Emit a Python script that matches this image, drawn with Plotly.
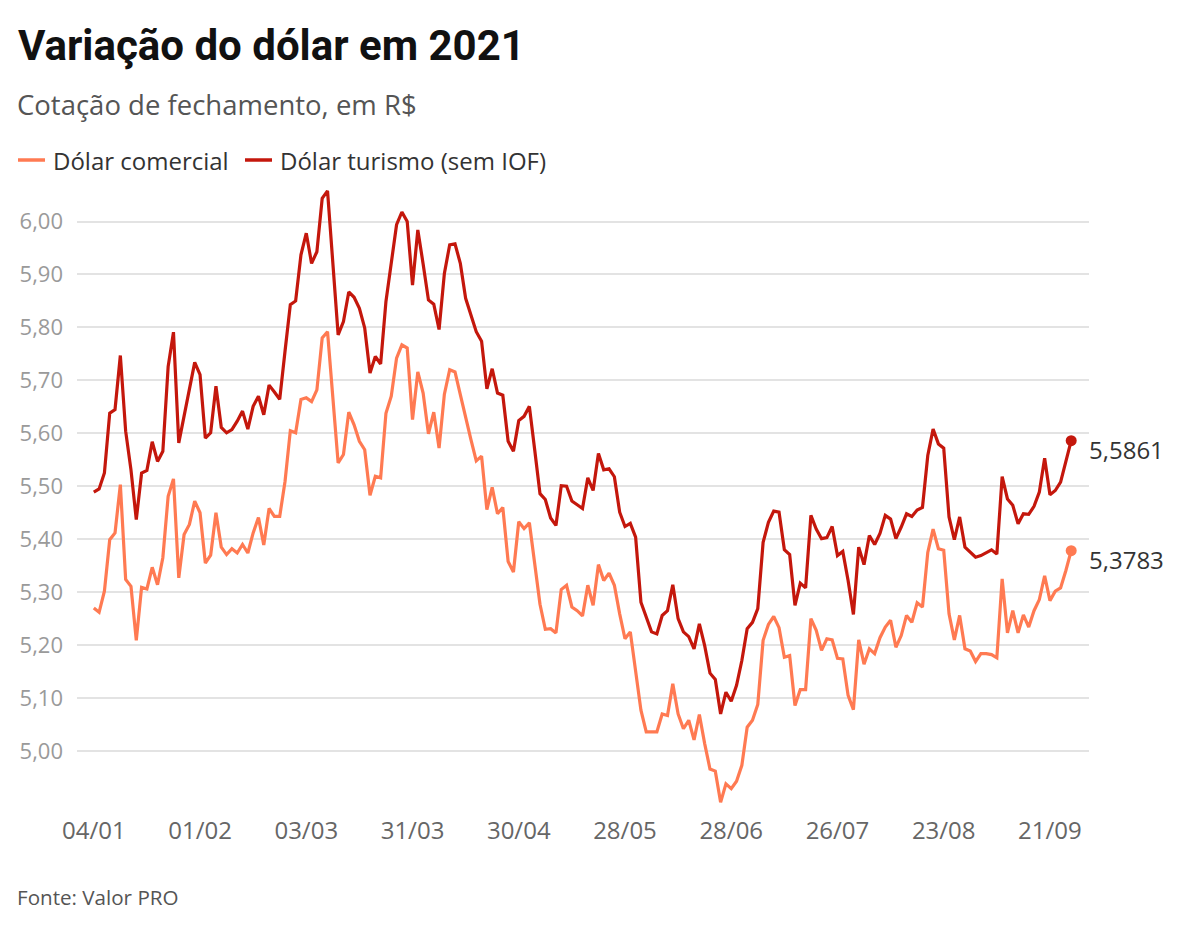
import plotly.graph_objects as go

# ---- categories: trading days of 2021 (dd/mm) ----
MONTH_DAYS = {
    "01": [4, 5, 6, 7, 8, 11, 12, 13, 14, 15, 18, 19, 20, 21, 22, 25, 26, 27, 28, 29],
    "02": [1, 2, 3, 4, 5, 8, 9, 10, 11, 12, 17, 18, 19, 22, 23, 24, 25, 26],
    "03": [1, 2, 3, 4, 5, 8, 9, 10, 11, 12, 15, 16, 17, 18, 19, 22, 23, 24, 25, 26, 29, 30, 31],
    "04": [1, 5, 6, 7, 8, 9, 12, 13, 14, 15, 16, 19, 20, 22, 23, 26, 27, 28, 29, 30],
    "05": [3, 4, 5, 6, 7, 10, 11, 12, 13, 14, 17, 18, 19, 20, 21, 24, 25, 26, 27, 28, 31],
    "06": [1, 2, 4, 7, 8, 9, 10, 11, 14, 15, 16, 17, 18, 21, 22, 23, 24, 25, 28, 29, 30],
    "07": [1, 2, 5, 6, 7, 8, 9, 12, 13, 14, 15, 16, 19, 20, 21, 22, 23, 26, 27, 28, 29, 30],
    "08": [2, 3, 4, 5, 6, 9, 10, 11, 12, 13, 16, 17, 18, 19, 20, 23, 24, 25, 26, 27, 30, 31],
    "09": [1, 2, 3, 6, 8, 9, 10, 13, 14, 15, 16, 17, 20, 21, 22, 23, 24, 27],
}
DATES = [f"{d:02d}/{m}" for m, days in MONTH_DAYS.items() for d in days]

X_TICKS = ["04/01", "01/02", "03/03", "31/03", "30/04", "28/05", "28/06", "26/07", "23/08", "21/09"]
Y_TICKS = [5.0, 5.1, 5.2, 5.3, 5.4, 5.5, 5.6, 5.7, 5.8, 5.9, 6.0]

# ---- series ----
COMERCIAL = [
    5.270, 5.262, 5.302, 5.399, 5.412, 5.503, 5.324, 5.311, 5.209, 5.309,
    5.306, 5.347, 5.314, 5.365, 5.481, 5.514, 5.327, 5.409, 5.428, 5.472,
    5.450, 5.355, 5.370, 5.450, 5.385, 5.371, 5.382, 5.374, 5.390, 5.374,
    5.412, 5.441, 5.389, 5.458, 5.443, 5.443, 5.509, 5.605, 5.601, 5.664,
    5.667, 5.660, 5.682, 5.780, 5.792, 5.667, 5.544, 5.560, 5.640, 5.616,
    5.585, 5.569, 5.483, 5.519, 5.516, 5.638, 5.670, 5.742, 5.767, 5.761,
    5.626, 5.716, 5.676, 5.599, 5.640, 5.572, 5.674, 5.720, 5.716, 5.673,
    5.629, 5.588, 5.548, 5.557, 5.456, 5.498, 5.448, 5.460, 5.358, 5.338,
    5.433, 5.420, 5.431, 5.352, 5.277, 5.230, 5.231, 5.223, 5.305, 5.313,
    5.272, 5.265, 5.255, 5.313, 5.275, 5.352, 5.322, 5.336, 5.313, 5.259,
    5.212, 5.225, 5.146, 5.077, 5.036, 5.036, 5.036, 5.070, 5.067, 5.127,
    5.070, 5.042, 5.058, 5.021, 5.069, 5.014, 4.966, 4.962, 4.903, 4.938,
    4.929, 4.943, 4.973, 5.045, 5.058, 5.088, 5.209, 5.239, 5.254, 5.233,
    5.177, 5.180, 5.086, 5.116, 5.116, 5.250, 5.228, 5.190, 5.212, 5.210,
    5.175, 5.174, 5.105, 5.078, 5.210, 5.164, 5.193, 5.184, 5.214, 5.234,
    5.247, 5.196, 5.218, 5.256, 5.243, 5.280, 5.272, 5.375, 5.419, 5.382,
    5.379, 5.259, 5.210, 5.256, 5.193, 5.189, 5.169, 5.184, 5.184, 5.182,
    5.176, 5.325, 5.223, 5.265, 5.223, 5.257, 5.234, 5.265, 5.286, 5.331,
    5.284, 5.302, 5.308, 5.341, 5.3783,
]
TURISMO = [
    5.489, 5.495, 5.525, 5.638, 5.645, 5.747, 5.604, 5.531, 5.437, 5.525,
    5.530, 5.584, 5.547, 5.566, 5.726, 5.791, 5.582, 5.635, 5.686, 5.734,
    5.711, 5.591, 5.601, 5.689, 5.611, 5.601, 5.607, 5.623, 5.642, 5.608,
    5.651, 5.670, 5.635, 5.691, 5.678, 5.664, 5.755, 5.843, 5.850, 5.937,
    5.978, 5.921, 5.943, 6.044, 6.058, 5.920, 5.786, 5.811, 5.867, 5.857,
    5.836, 5.799, 5.714, 5.745, 5.731, 5.849, 5.918, 5.994, 6.018, 6.000,
    5.880, 5.984, 5.920, 5.852, 5.844, 5.796, 5.902, 5.956, 5.958, 5.921,
    5.855, 5.821, 5.792, 5.774, 5.684, 5.722, 5.676, 5.672, 5.585, 5.566,
    5.624, 5.632, 5.651, 5.569, 5.486, 5.475, 5.440, 5.426, 5.501, 5.500,
    5.472, 5.465, 5.458, 5.516, 5.492, 5.562, 5.531, 5.533, 5.518, 5.451,
    5.424, 5.430, 5.404, 5.281, 5.253, 5.225, 5.221, 5.256, 5.265, 5.314,
    5.250, 5.225, 5.216, 5.193, 5.240, 5.199, 5.147, 5.135, 5.070, 5.111,
    5.094, 5.124, 5.171, 5.231, 5.243, 5.269, 5.394, 5.432, 5.453, 5.451,
    5.380, 5.371, 5.275, 5.317, 5.308, 5.445, 5.419, 5.401, 5.403, 5.424,
    5.369, 5.377, 5.322, 5.258, 5.385, 5.352, 5.407, 5.390, 5.411, 5.445,
    5.438, 5.401, 5.423, 5.448, 5.443, 5.455, 5.460, 5.558, 5.608, 5.580,
    5.572, 5.442, 5.399, 5.442, 5.385, 5.375, 5.366, 5.369, 5.375, 5.380,
    5.372, 5.518, 5.476, 5.464, 5.429, 5.448, 5.447, 5.462, 5.489, 5.553,
    5.484, 5.492, 5.508, 5.545, 5.5861,
]

SERIES_NAMES = ["Dólar comercial", "Dólar turismo (sem IOF)"]
COLORS = ["#ff7a52", "#c4170c"]
FONT = "Open Sans"

# plot-area geometry (pixels)
W, H = 1200, 931
L, R, T, B = 77, 111, 185, 126
PW, PH = W - L - R, H - T - B


def px(x):
    return (x - L) / PW


def py(y):
    return (H - B - y) / PH


fig = go.Figure()
for name, vals, col in zip(SERIES_NAMES, [COMERCIAL, TURISMO], COLORS):
    fig.add_trace(go.Scatter(
        x=DATES, y=vals, mode="lines", name=name,
        line=dict(color=col, width=3.2), showlegend=False,
        hoverinfo="skip",
    ))
    fig.add_trace(go.Scatter(
        x=[DATES[-1]], y=[vals[-1]], mode="markers",
        marker=dict(color=col, size=11), showlegend=False, hoverinfo="skip",
    ))
    fig.add_annotation(
        x=DATES[-1], y=vals[-1], xref="x", yref="y",
        text=f"{vals[-1]:.4f}".replace(".", ","), showarrow=False,
        xanchor="left", yanchor="middle", xshift=16, yshift=-9,
        font=dict(family=FONT, size=24, color="#333333"),
    )

# title, subtitle, source
fig.add_annotation(x=px(16), y=py(45), xref="paper", yref="paper",
                   text="<b>Variação do dólar em 2021</b>", showarrow=False,
                   xanchor="left", yanchor="middle",
                   font=dict(family="Roboto", size=42, color="#111111"))
fig.add_annotation(x=px(15), y=py(105), xref="paper", yref="paper",
                   text="Cotação de fechamento, em R$", showarrow=False,
                   xanchor="left", yanchor="middle",
                   font=dict(family=FONT, size=27.5, color="#555555"))
fig.add_annotation(x=px(15), y=py(897), xref="paper", yref="paper",
                   text="Fonte: Valor PRO", showarrow=False,
                   xanchor="left", yanchor="middle",
                   font=dict(family=FONT, size=20.6, color="#555555"))

# custom legend
LEG_X = [18, 245]
for name, col, lx in zip(SERIES_NAMES, COLORS, LEG_X):
    fig.add_shape(type="line", xref="paper", yref="paper",
                  x0=px(lx), x1=px(lx + 27), y0=py(160), y1=py(160),
                  line=dict(color=col, width=3.5))
    fig.add_annotation(x=px(lx + 33), y=py(160), xref="paper", yref="paper",
                       text=name, showarrow=False, xanchor="left", yanchor="middle",
                       font=dict(family=FONT, size=24, color="#333333"))

fig.update_layout(
    width=W, height=H, autosize=False,
    margin=dict(l=L, r=R, t=T, b=B),
    paper_bgcolor="white", plot_bgcolor="white",
    separators=",.",
    showlegend=False,
    xaxis=dict(
        type="category", range=[-3.16, 187.35],
        tickmode="array", tickvals=X_TICKS, ticktext=X_TICKS,
        showgrid=False, showline=False, zeroline=False, ticks="",
        tickfont=dict(family=FONT, size=24, color="#666666"),
        ticklabelstandoff=9,
    ),
    yaxis=dict(
        range=[4.898, 6.069],
        tickmode="array", tickvals=Y_TICKS, tickformat=".2f",
        showgrid=True, gridcolor="#e3e3e3", gridwidth=1.5,
        showline=False, zeroline=False, ticks="",
        tickfont=dict(family=FONT, size=22, color="#9a9a9a"),
        ticklabelstandoff=13,
    ),
)

fig.write_html("out.html", config={"displayModeBar": False},
               post_script="document.body.style.margin='0px';")
